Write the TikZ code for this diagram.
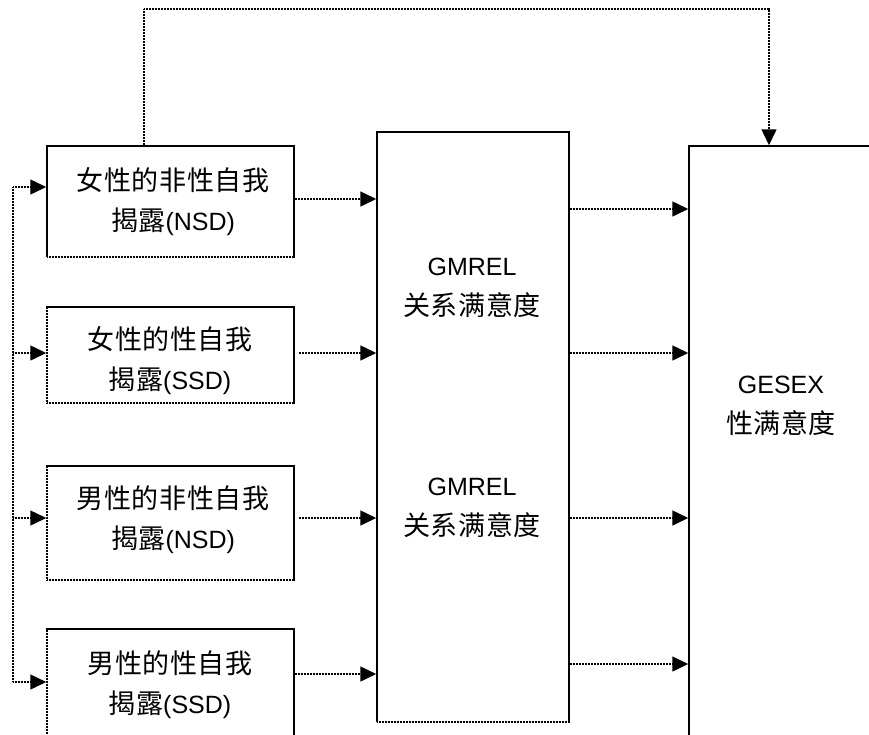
\documentclass[tikz,border=0pt]{standalone}
\usepackage{fontspec}
\setmainfont{Liberation Sans}
\newfontfamily\cjk[LetterSpace=2]{Noto Sans CJK SC}
\usetikzlibrary{arrows.meta}
\newcommand\zh[1]{{\cjk\fontsize{27}{40}\selectfont #1}}
\tikzset{
  dl/.style={line width=1.5pt, dash pattern=on 1.2pt off 0.3pt},
  boxshape/.style={dl, draw, rectangle, inner sep=0pt},
  lbl/.style={align=center, font=\fontsize{25}{40}\selectfont, inner sep=0pt},
  arr/.style={dl, -{Triangle[length=16pt,width=15pt]}},
}
\begin{document}
\begin{tikzpicture}[x=1pt,y=-1pt]
\useasboundingbox (0,0) rectangle (869,734);
\clip (0,0) rectangle (869,734);
% boxes
\node[boxshape, minimum width=247pt, minimum height=111pt] (box1) at (170.5,201.5) {};
\node[boxshape, minimum width=247pt, minimum height=96pt] (box2) at (170.5,355) {};
\node[boxshape, minimum width=247pt, minimum height=114pt] (box3) at (170.5,523) {};
\node[boxshape, minimum width=247pt, minimum height=140pt] (box4) at (170.5,699) {};
\node[boxshape, minimum width=192pt, minimum height=590pt] (gm) at (473,427) {};
\node[boxshape, minimum width=240pt, minimum height=640pt] (ge) at (809,466) {};
% texts
\node[lbl] (t1) at (173,202) {\zh{女性的非性自我}\\\zh{揭露}(NSD)};
\node[lbl] (t2) at (170,361) {\zh{女性的性自我}\\\zh{揭露}(SSD)};
\node[lbl] (t3) at (173,520) {\zh{男性的非性自我}\\\zh{揭露}(NSD)};
\node[lbl] (t4) at (170,685) {\zh{男性的性自我}\\\zh{揭露}(SSD)};
\node[lbl] (g1) at (472,288) {GMREL\\\zh{关系满意度}};
\node[lbl] (g2) at (472,508) {GMREL\\\zh{关系满意度}};
\node[lbl] (g3) at (781,406) {GESEX\\\zh{性满意度}};
% top loop
\coordinate (tl) at (144,9);
\coordinate (tr) at (769,9);
\draw[arr] (box1.north -| tl) -- (tl) -- (tr) -- (ge.north -| tr);
% left bus
\coordinate (b1) at (13,187);
\coordinate (b4) at (13,682);
\draw[dl] (b1) -- (b4);
\draw[arr] (b1) -- (box1.west |- b1);
\draw[arr] (b4) -- (box4.west |- b4);
\coordinate (b2) at (13,353);
\coordinate (b3) at (13,518);
\draw[arr] (b2) -- (box2.west |- b2);
\draw[arr] (b3) -- (box3.west |- b3);
% boxes to GMREL
\coordinate (m1) at (0,199);
\coordinate (m2) at (0,353);
\coordinate (m3) at (0,518);
\coordinate (m4) at (0,674);
\draw[arr] (box1.east |- m1) -- (gm.west |- m1);
\draw[arr] ([xshift=4pt]box2.east |- m2) -- (gm.west |- m2);
\draw[arr] ([xshift=4pt]box3.east |- m3) -- (gm.west |- m3);
\draw[arr] (box4.east |- m4) -- (gm.west |- m4);
% GMREL to GESEX
\coordinate (n1) at (0,209);
\coordinate (n2) at (0,353);
\coordinate (n3) at (0,518);
\coordinate (n4) at (0,664);
\draw[arr] (gm.east |- n1) -- (ge.west |- n1);
\draw[arr] (gm.east |- n2) -- (ge.west |- n2);
\draw[arr] (gm.east |- n3) -- (ge.west |- n3);
\draw[arr] (gm.east |- n4) -- (ge.west |- n4);
\end{tikzpicture}
\end{document}
